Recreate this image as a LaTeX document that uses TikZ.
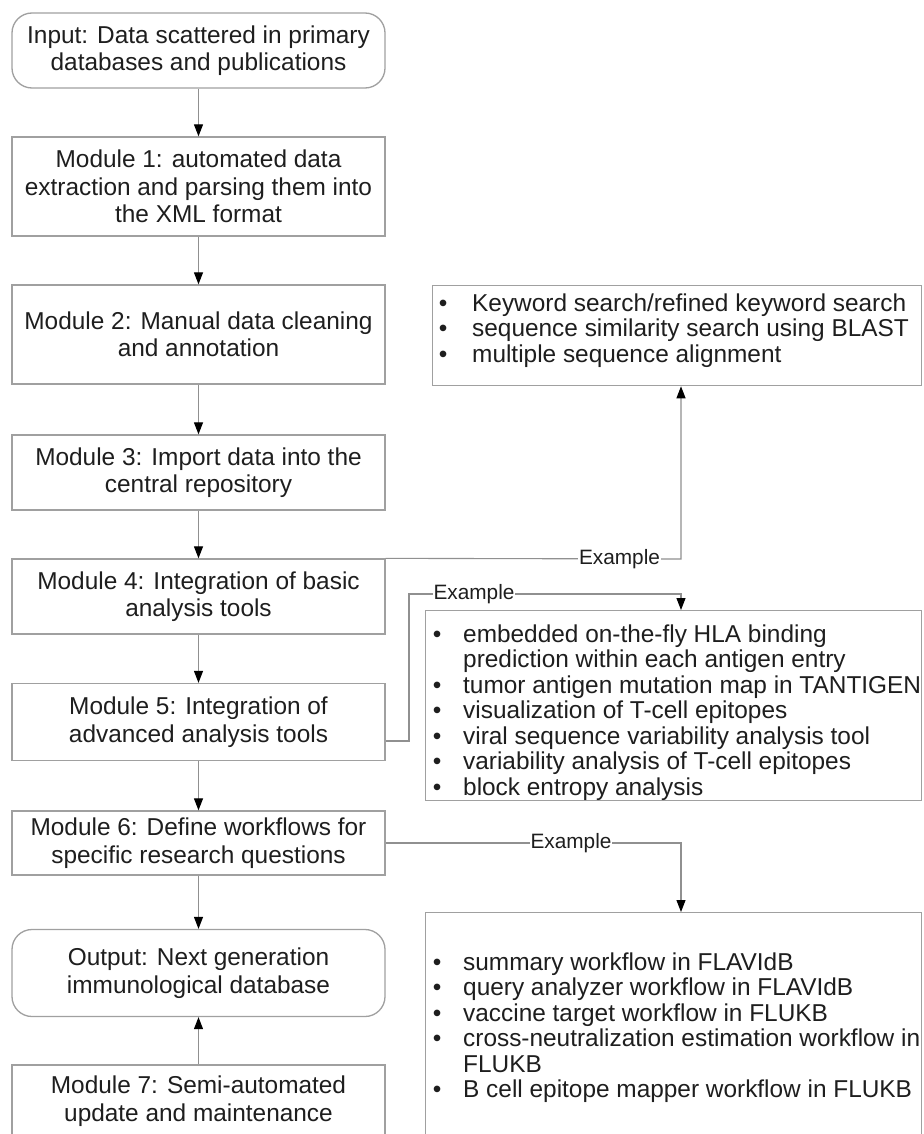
\documentclass[tikz,border=0pt]{standalone}
\usepackage{fontspec}
\setmainfont{Liberation Sans}
\usetikzlibrary{arrows.meta}
\definecolor{boxgray}{HTML}{A0A0A0}
\definecolor{linegray}{HTML}{909090}
\definecolor{textcol}{HTML}{1E1E1E}
\newcommand{\modfont}{\fontsize{24.4pt}{27.5pt}\selectfont}
\newcommand{\bulfont}{\fontsize{24.4pt}{25.5pt}\selectfont}
\newcommand{\lblfont}{\fontsize{20.8pt}{24pt}\selectfont}
\begin{document}
\begin{tikzpicture}[x=1pt,y=-1pt,
  modbox/.style={draw=boxgray, line width=1.3pt, minimum width=373pt, align=center,
    inner sep=0pt, font=\modfont, text=textcol},
  endbox/.style={modbox, rounded corners=20pt},
  bulbox/.style={draw=boxgray, line width=1.3pt, anchor=north west, inner sep=0pt,
    minimum width=489pt},
  bultext/.style={anchor=base west, inner sep=0pt, font=\bulfont, text=textcol},
  conn/.style={draw=linegray, line width=1.1pt},
  arr/.style={conn, -{Triangle[length=12pt,width=9pt,color=black]}},
  lbl/.style={fill=white, inner sep=1pt, font=\lblfont, text=textcol}]
\fill[white] (0,0) rectangle (923,1134);
\useasboundingbox (0,0) rectangle (923,1134);
\clip (0,0) rectangle (923,1134);

% left column
\node[endbox, minimum height=75pt] (in) at (198.5,50.5) {Input: Data scattered in primary\\databases and publications};
\node[modbox, minimum height=99pt] (m1) at (198.5,186.5) {Module 1: automated data\\extraction and parsing them into\\the XML format};
\node[modbox, minimum height=99pt] (m2) at (198.5,334.5) {Module 2: Manual data cleaning\\and annotation};
\node[modbox, minimum height=75pt] (m3) at (198.5,472.5) {Module 3: Import data into the\\central repository};
\node[modbox, minimum height=75pt] (m4) at (198.5,596.5) {Module 4: Integration of basic\\analysis tools};
\node[modbox, minimum height=77pt] (m5) at (198.5,722) {Module 5: Integration of\\advanced analysis tools};
\node[modbox, minimum height=64pt] (m6) at (198.5,843) {Module 6: Define workflows for\\specific research questions};
\node[endbox, minimum height=87pt] (out) at (198.5,973) {Output: Next generation\\immunological database};
\node[modbox, minimum height=72pt] (m7) at (198.5,1101) {Module 7: Semi-automated\\update and maintenance};

\draw[arr] (in.south) -- (m1.north);
\draw[arr] (m1.south) -- (m2.north);
\draw[arr] (m2.south) -- (m3.north);
\draw[arr] (m3.south) -- (m4.north);
\draw[arr] (m4.south) -- (m5.north);
\draw[arr] (m5.south) -- (m6.north);
\draw[arr] (m6.south) -- (out.north);
\draw[arr] (m7.north) -- (out.south);

% right column boxes
\node[bulbox, minimum height=100pt] (b1) at (432,285) {};
\node[bultext] (b1t) at (438.7,311) {\begin{tabular}[t]{@{}p{33.3pt}@{}l@{}}
\textbullet & Keyword search/refined keyword search\\
\textbullet & sequence similarity search using BLAST\\
\textbullet & multiple sequence alignment
\end{tabular}};

\node[bulbox, minimum width=496pt, minimum height=190pt] (b2) at (425,610) {};
\node[bultext] (b2t) at (432.7,642) {\begin{tabular}[t]{@{}p{30.3pt}@{}l@{}}
\textbullet & embedded on-the-fly HLA binding\\
 & prediction within each antigen entry\\
\textbullet & tumor antigen mutation map in TANTIGEN\\
\textbullet & visualization of T-cell epitopes\\
\textbullet & viral sequence variability analysis tool\\
\textbullet & variability analysis of T-cell epitopes\\
\textbullet & block entropy analysis
\end{tabular}};

\node[bulbox, minimum width=496pt, minimum height=240pt] (b3) at (425,912) {};
\node[bultext] (b3t) at (432.7,970) {\begin{tabular}[t]{@{}p{30.3pt}@{}l@{}}
\textbullet & summary workflow in FLAVIdB\\
\textbullet & query analyzer workflow in FLAVIdB\\
\textbullet & vaccine target workflow in FLUKB\\
\textbullet & cross-neutralization estimation workflow in\\
 & FLUKB\\
\textbullet & B cell epitope mapper workflow in FLUKB
\end{tabular}};

% Example connectors
\coordinate (c1) at (681,559);
\draw[arr] (m4.north east) -- (c1) -- (c1 |- b1.south);
\node[lbl] (e1) at (619.5,559) {Example};

\coordinate (c2a) at (409,741);
\coordinate (c2b) at (409,594);
\coordinate (c2c) at (681,594);
\draw[arr] (m5.east |- c2a) -- (c2a) -- (c2b) -- (c2c) -- (c2c |- b2.north);
\node[lbl] (e2) at (474,594) {Example};

\coordinate (c3) at (681,843);
\draw[arr] (m6.east) -- (c3) -- (c3 |- b3.north);
\node[lbl] (e3) at (571,843) {Example};
\end{tikzpicture}
\end{document}
